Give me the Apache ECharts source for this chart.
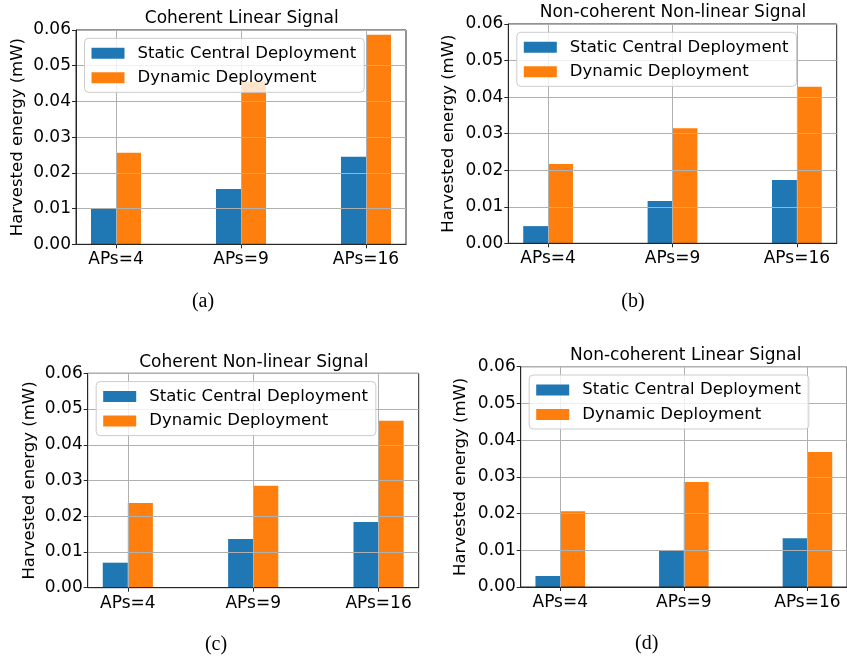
<!DOCTYPE html>
<html>
<head>
<meta charset="utf-8">
<script src="https://cdn.jsdelivr.net/npm/echarts@6/dist/echarts.min.js"></script>
<style>
  html, body { margin: 0; padding: 0; background: #fff; }
  #chart { width: 847px; height: 660px; }
</style>
</head>
<body>
<div id="chart"></div>
<script>
// categories and values
const categories = ['APs=4', 'APs=9', 'APs=16'];
const seriesNames = ['Static Central Deployment', 'Dynamic Deployment'];
const titles = ['Coherent Linear Signal', 'Non-coherent Non-linear Signal', 'Coherent Non-linear Signal', 'Non-coherent Linear Signal'];
const captions = ['(a)', '(b)', '(c)', '(d)'];

const staticA = [0.0099, 0.0155, 0.0245];
const dynamicA = [0.0256, 0.0455, 0.0587];
const staticB = [0.0047, 0.0116, 0.0173];
const dynamicB = [0.0217, 0.0315, 0.0428];
const staticC = [0.0070, 0.0136, 0.0184];
const dynamicC = [0.0237, 0.0285, 0.0467];
const staticD = [0.0030, 0.0100, 0.0133];
const dynamicD = [0.0206, 0.0286, 0.0368];

const yMin = 0, yMax = 0.06, yStep = 0.01;

const panelData = [
  [staticA, dynamicA],
  [staticB, dynamicB],
  [staticC, dynamicC],
  [staticD, dynamicD]
];

// plot boxes, in pixels
const panels = [
  { left: 76, top: 30, width: 330, height: 214.3, titleX: 241.7, titleY: 18.5, nameX: 17.5, capX: 203, capY: 302 },
  { left: 508.3, top: 24, width: 328.4, height: 219.3, titleX: 673, titleY: 12.5, nameX: 449, capX: 633, capY: 302 },
  { left: 87.7, top: 373.3, width: 331, height: 214.4, titleX: 253.8, titleY: 363, nameX: 29.3, capX: 216, capY: 645 },
  { left: 520.7, top: 366.7, width: 328.3, height: 220.3, titleX: 685.7, titleY: 355.5, nameX: 460.7, capX: 646.7, capY: 644 }
];

const colors = ['#1f77b4', '#ff7f0e'];
const gridColor = '#b0b0b0';
const spineColor = '#262626';
const font = 'DejaVu Sans';
const xMin = -0.32, xMax = 2.32;
const barSpan = 0.2;
const catPos = categories.map(function (c, k) { return k; });

let grids = [], xAxes = [], yAxes = [], series = [], legends = [], graphics = [];

panels.forEach(function (p, i) {
  grids.push({
    left: p.left, top: p.top, width: p.width, height: p.height,
    show: true, borderColor: spineColor, borderWidth: 1, backgroundColor: 'transparent'
  });

  xAxes.push({
    type: 'value', gridIndex: i, min: xMin, max: xMax,
    axisLine: { show: true, onZero: false, lineStyle: { color: spineColor, width: 1 } },
    axisTick: { show: true, customValues: catPos, length: 4, lineStyle: { color: spineColor } },
    axisLabel: {
      customValues: catPos, margin: 7,
      fontFamily: font, fontSize: 17, color: '#000',
      formatter: function (v) { return categories[Math.round(v)]; }
    },
    splitLine: { show: false }
  });

  yAxes.push({
    type: 'value', gridIndex: i, min: yMin, max: yMax, interval: yStep,
    axisLine: { show: true, onZero: false, lineStyle: { color: spineColor, width: 1 } },
    axisTick: { show: true, length: 4, lineStyle: { color: spineColor } },
    axisLabel: {
      margin: 5, fontFamily: font, fontSize: 17, color: '#000',
      formatter: function (v) { return v.toFixed(2); }
    },
    splitLine: { show: true, lineStyle: { color: gridColor, width: 1 } }
  });

  // bar width in px from the data span of one bar
  let barPx = barSpan * p.width / (xMax - xMin);
  panelData[i].forEach(function (vals, s) {
    let shift = s === 0 ? -barSpan / 2 : barSpan / 2;
    let item = {
      name: seriesNames[s],
      type: 'bar',
      xAxisIndex: i, yAxisIndex: i,
      barWidth: barPx, barGap: '-100%',
      z: -1,
      itemStyle: { color: colors[s] },
      data: vals.map(function (v, k) { return [k + shift, v]; })
    };
    if (s === 1) {
      // vertical grid lines at the category ticks, above the bars
      item.markLine = {
        silent: true, symbol: 'none', z: 1, animation: false,
        label: { show: false },
        lineStyle: { color: gridColor, width: 1, type: 'solid' },
        emphasis: { disabled: true },
        data: catPos.map(function (k) { return { xAxis: k }; })
      };
    }
    series.push(item);
  });

  legends.push({
    left: p.left + 8.5, top: p.top + 8.3,
    orient: 'vertical',
    data: seriesNames,
    icon: 'rect', itemWidth: 33, itemHeight: 11, itemGap: 4.5,
    padding: [5, 8, 4.5, 7],
    selectedMode: false,
    backgroundColor: 'rgba(255,255,255,0.8)',
    borderColor: '#cccccc', borderWidth: 1, borderRadius: 4,
    textStyle: { fontFamily: font, fontSize: 16.5, color: '#000', lineHeight: 20, padding: [0, 0, 0, 8] }
  });

  graphics.push({
    type: 'text', x: p.titleX, y: p.titleY,
    style: { text: titles[i], font: '17px "DejaVu Sans"', fill: '#000', align: 'center', verticalAlign: 'middle' }
  });
  graphics.push({
    type: 'text', x: p.nameX, y: p.top + p.height / 2, rotation: Math.PI / 2,
    style: { text: 'Harvested energy (mW)', font: '16.5px "DejaVu Sans"', fill: '#000', align: 'center', verticalAlign: 'middle' }
  });
  graphics.push({
    type: 'text', x: p.capX, y: p.capY,
    style: { text: captions[i], font: '20px "Liberation Serif"', fill: '#000', align: 'center', verticalAlign: 'middle' }
  });
});

const chart = echarts.init(document.getElementById('chart'), null, { renderer: 'canvas' });
chart.setOption({
  animation: false,
  backgroundColor: '#fff',
  grid: grids,
  xAxis: xAxes,
  yAxis: yAxes,
  legend: legends,
  series: series,
  graphic: graphics
});
</script>
</body>
</html>
